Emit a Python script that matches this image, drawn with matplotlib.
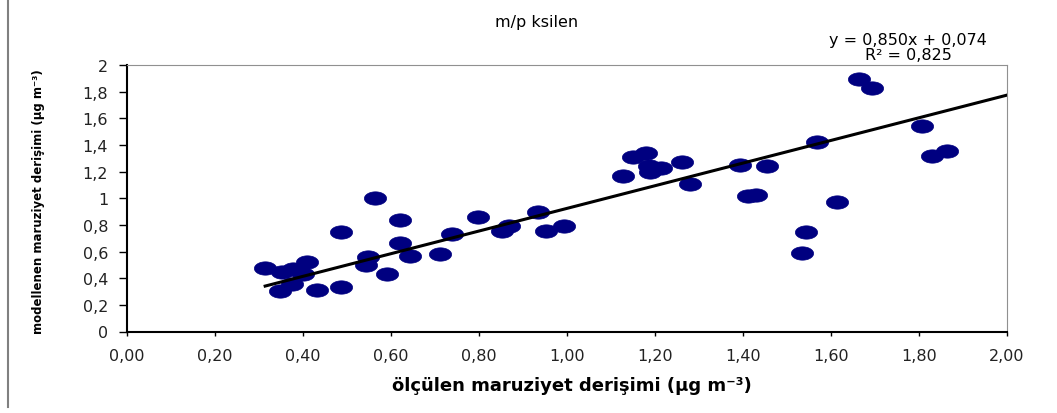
import numpy as np
import matplotlib
matplotlib.use("Agg")
import matplotlib.pyplot as plt
from matplotlib.path import Path
from matplotlib.lines import Line2D
from matplotlib.ticker import FuncFormatter

# measured (x) vs modelled (y) exposure concentrations
olculen = [0.314, 0.352, 0.348, 0.374, 0.377, 0.400, 0.408, 0.432, 0.486, 0.486,
           0.543, 0.548, 0.564, 0.591, 0.620, 0.620, 0.643, 0.711, 0.738, 0.798,
           0.852, 0.868, 0.934, 0.952, 0.994, 1.128, 1.151, 1.180, 1.187, 1.189,
           1.214, 1.261, 1.280, 1.393, 1.412, 1.429, 1.455, 1.533, 1.543, 1.569,
           1.613, 1.664, 1.694, 1.806, 1.829, 1.863]
modellenen = [0.477, 0.449, 0.306, 0.356, 0.469, 0.432, 0.519, 0.311, 0.747, 0.334,
              0.499, 0.559, 1.002, 0.432, 0.839, 0.664, 0.569, 0.582, 0.732, 0.859,
              0.756, 0.794, 0.897, 0.754, 0.794, 1.165, 1.307, 1.337, 1.244, 1.199,
              1.225, 1.274, 1.107, 1.252, 1.015, 1.027, 1.240, 0.589, 0.749, 1.425,
              0.970, 1.895, 1.825, 1.540, 1.315, 1.352]

# trendline from the chart
egim = 0.850
kesisim = 0.074
r2 = 0.825

x_ticks = [0.0, 0.2, 0.4, 0.6, 0.8, 1.0, 1.2, 1.4, 1.6, 1.8, 2.0]
y_ticks = [0.0, 0.2, 0.4, 0.6, 0.8, 1.0, 1.2, 1.4, 1.6, 1.8, 2.0]

fig = plt.figure(figsize=(10.57, 4.14), dpi=100)
ax = fig.add_axes([127 / 1057, 1 - 332.5 / 414, 880 / 1057, 266.5 / 414])

# flattened ellipse marker like the squashed original
t = np.linspace(0, 2 * np.pi, 60)
verts = np.column_stack([np.cos(t), 0.6 * np.sin(t)])
elips = Path(verts, closed=True)

ax.plot(olculen, modellenen, linestyle="none", marker=elips, markersize=16,
        color="#000080", markeredgecolor="#000080", markeredgewidth=0.5, zorder=3)

xl = np.array([min(olculen), 2.0])
ax.plot(xl, egim * xl + kesisim, color="black", linewidth=2.2, zorder=4)

ax.set_xlim(0, 2)
ax.set_ylim(0, 2)
ax.set_xticks(x_ticks)
ax.set_yticks(y_ticks)
ax.xaxis.set_major_formatter(FuncFormatter(lambda v, p: f"{v:.2f}".replace(".", ",")))


def yfmt(v, p):
    if abs(v - round(v)) < 1e-9:
        return str(int(round(v)))
    return f"{v:.1f}".replace(".", ",")


ax.yaxis.set_major_formatter(FuncFormatter(yfmt))
ax.tick_params(axis="x", direction="out", length=3, width=1, pad=9,
               labelsize=11.5, colors="black", labelcolor="#222222")
ax.tick_params(axis="y", direction="out", length=5.5, width=1, pad=8,
               labelsize=11.5, colors="black", labelcolor="#222222")

for s in ["left", "bottom"]:
    ax.spines[s].set_color("black")
    ax.spines[s].set_linewidth(1.5)
for s in ["top", "right"]:
    ax.spines[s].set_color("#909090")
    ax.spines[s].set_linewidth(0.8)

ax.set_xlabel("ölçülen maruziyet derişimi (µg m⁻³)", fontsize=13, fontweight="bold")
ax.set_ylabel("modellenen maruziyet derişimi (µg m⁻³)", fontsize=8.5, fontweight="bold")
ax.xaxis.set_label_coords(0.506, -0.167)
ax.yaxis.set_label_coords(-0.093, 0.49)

fig.text(537 / 1057, 1 - 23 / 414, "m/p ksilen", ha="center", va="center", fontsize=11.5)
fig.text(908 / 1057, 1 - 40 / 414,
         "y = " + f"{egim:.3f}".replace(".", ",") + "x + " + f"{kesisim:.3f}".replace(".", ","),
         ha="center", va="center", fontsize=11.5)
fig.text(908 / 1057, 1 - 55 / 414, "R² = " + f"{r2:.3f}".replace(".", ","),
         ha="center", va="center", fontsize=11.5)

fig.add_artist(Line2D([7.5 / 1057, 7.5 / 1057], [1 - 408 / 414, 1],
                      transform=fig.transFigure, color="#808080", linewidth=1.5))

fig.savefig("out.png", dpi=100)
